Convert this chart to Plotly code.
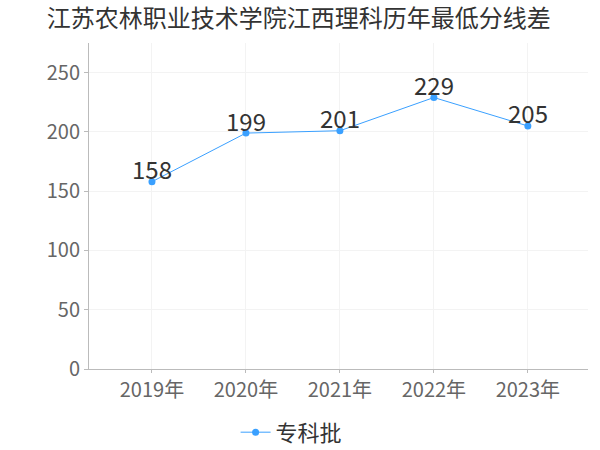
import plotly.graph_objects as go

title = "江苏农林职业技术学院江西理科历年最低分线差"
years = ["2019年", "2020年", "2021年", "2022年", "2023年"]
scores = [158, 199, 201, 229, 205]
series_name = "专科批"
y_ticks = [0, 50, 100, 150, 200, 250]

font = "Noto Sans CJK SC"
fig = go.Figure()
fig.add_trace(go.Scatter(
    x=years, y=scores, mode="lines+markers", name=series_name,
    line=dict(color="#3aa0ff", width=1),
    marker=dict(color="#3aa0ff", size=7),
    cliponaxis=False,
))
for yr, v in zip(years, scores):
    fig.add_annotation(x=yr, y=v, text=str(v), showarrow=False,
                       yanchor="middle", yshift=13,
                       font=dict(size=24, color="#333333", family=font))
fig.update_layout(
    width=600, height=450,
    paper_bgcolor="white", plot_bgcolor="white",
    margin=dict(l=89, r=12, t=43, b=81, autoexpand=False),
    font=dict(family=font),
    title=dict(text=title, x=0.078, xanchor="left", y=0.958, yanchor="middle",
               font=dict(size=24, color="#333333", family=font), automargin=False),
    showlegend=True,
    legend=dict(orientation="h", x=0.406, xanchor="center", y=-0.13, yanchor="top",
                itemwidth=30,
                font=dict(size=22, color="#333333", family=font)),
    xaxis=dict(type="category", range=[-0.67, 4.64], showgrid=True, gridcolor="#f3f3f3",
               showline=True, linecolor="#bbbbbb", linewidth=1,
               ticks="outside", ticklen=3, tickcolor="#bbbbbb", automargin=False,
               tickfont=dict(size=20, color="#666666", family=font)),
    yaxis=dict(range=[0, 275], tickvals=y_ticks, showgrid=True, gridcolor="#f3f3f3",
               zeroline=False, showline=True, linecolor="#bbbbbb", linewidth=1,
               ticks="outside", ticklen=4, tickcolor="#bbbbbb", automargin=False,
               tickfont=dict(size=20, color="#666666", family=font)),
)
fig.write_html("out.html", config={"displayModeBar": False},
               post_script="document.body.style.margin='0';")
